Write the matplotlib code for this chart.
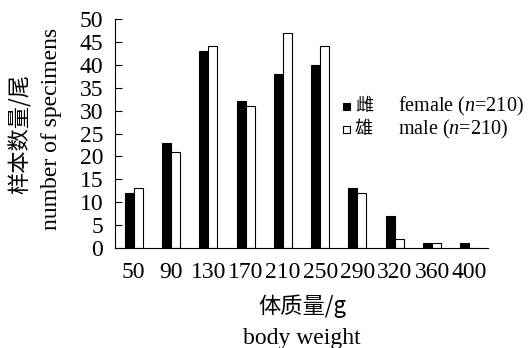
import matplotlib
matplotlib.use("Agg")
import matplotlib.pyplot as plt
from matplotlib.patches import Rectangle
import numpy as np

categories = ["50", "90", "130", "170", "210", "250", "290", "320", "360", "400"]
female = [12, 23, 43, 32, 38, 40, 13, 7, 1, 1]
male = [13, 21, 44, 31, 47, 44, 12, 2, 1, 0]
yticks = [0, 5, 10, 15, 20, 25, 30, 35, 40, 45, 50]

plt.rcParams['font.family'] = ['Liberation Serif', 'Noto Sans CJK SC']
plt.rcParams['mathtext.fontset'] = 'custom'
plt.rcParams['mathtext.rm'] = 'Liberation Serif'
plt.rcParams['mathtext.it'] = 'Liberation Serif:italic'

W, H = 528, 348
fig = plt.figure(figsize=(W/100, H/100), dpi=100)
ax = fig.add_axes([115/W, 1-248/H, (488-115)/W, (248-19)/H])

x = np.arange(len(categories))
w = 0.24
ax.bar(x - w/2, female, w, color='black', edgecolor='black', linewidth=0.8)
ax.bar(x + w/2, male, w, color='white', edgecolor='black', linewidth=0.8)

ax.set_xlim(-0.5, len(categories) - 0.5)
ax.set_ylim(0, 50)
ax.set_yticks(yticks)
ax.set_xticks(x)
ax.set_xticklabels(categories)
ax.tick_params(axis='y', direction='in', length=5, width=0.8, pad=8.5, labelsize=17)
ax.tick_params(axis='x', length=0, pad=10, labelsize=17)
for s in ['top', 'right']:
    ax.spines[s].set_visible(False)
for s in ['left', 'bottom']:
    ax.spines[s].set_linewidth(0.8)

cjk = ['Noto Sans CJK SC', 'Liberation Serif']
fig.text(20/W, 1-134/H, "样本数量/尾", rotation=90, ha='center', va='center', fontsize=16,
         family=cjk)
fig.text(52/W, 1-129/H, "number of specimens", rotation=90, ha='center', va='center', fontsize=17)
fig.text(302/W, 1-306/H, "体质量/g", ha='center', va='center', fontsize=16, family=cjk)
fig.text(302/W, 1-344/H, "body weight", ha='center', va='baseline', fontsize=17)

# legend (manual)
labels_cn = ["雌", "雄"]
labels_en = ["female ($n$=210)", "male ($n$=210)"]
colors = ['black', 'white']
ys = [106, 129]
for lab_cn, lab_en, c, yy in zip(labels_cn, labels_en, colors, ys):
    fig.add_artist(Rectangle(((343)/W, 1-(yy+3.5)/H), 7/W, 7/H, transform=fig.transFigure,
                             facecolor=c, edgecolor='black', linewidth=0.8))
    fig.text(355/W, 1-yy/H, lab_cn, ha='left', va='center', fontsize=13, family=cjk)
    fig.text(398/W, 1-yy/H, lab_en, ha='left', va='center', fontsize=14.5)

fig.savefig("out.png", dpi=100)
